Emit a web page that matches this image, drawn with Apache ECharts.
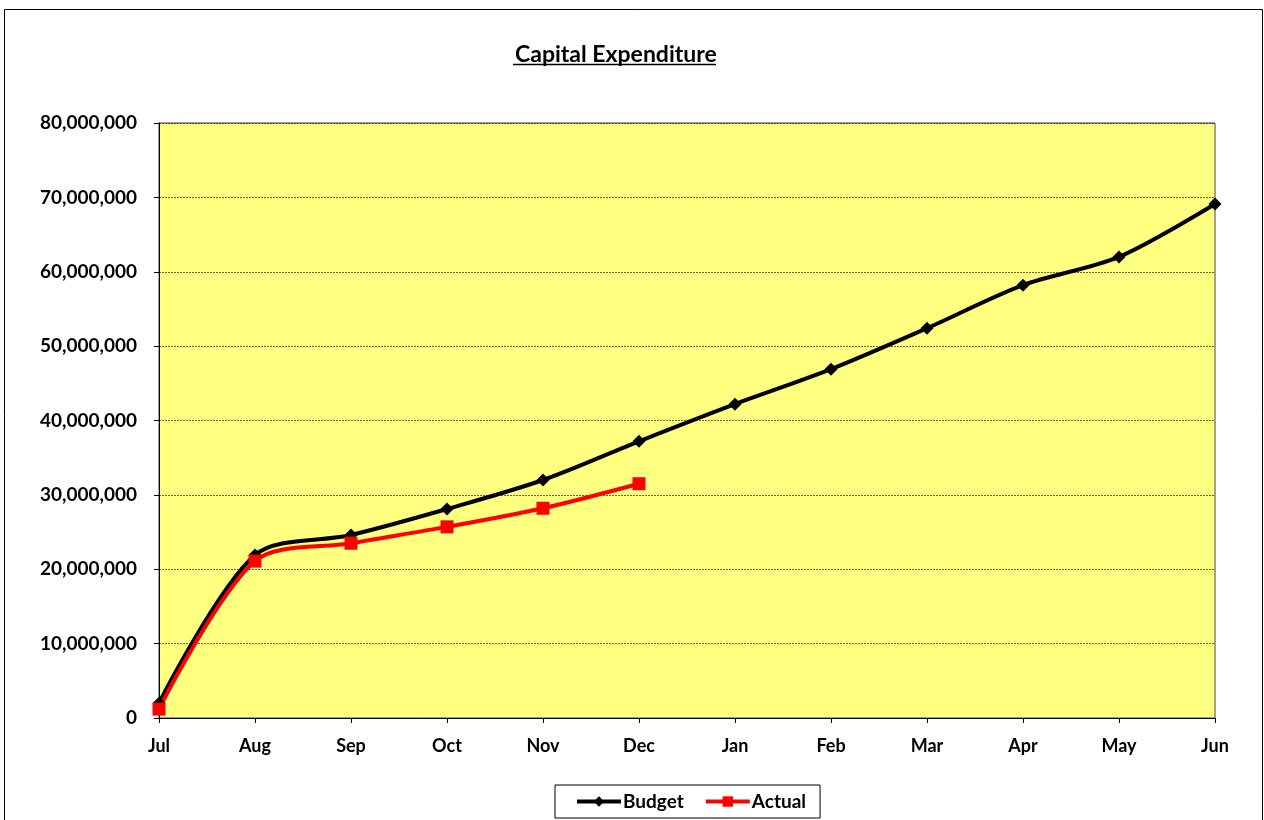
<!DOCTYPE html>
<html>
<head>
<meta charset="utf-8">
<script src="https://cdn.jsdelivr.net/npm/echarts@6/dist/echarts.min.js"></script>
<style>
  html, body { margin: 0; padding: 0; background: #fff; }
  #chart { width: 1264px; height: 820px; }
</style>
</head>
<body>
<div id="chart"></div>
<script>
// months of the financial year
var months = ['Jul', 'Aug', 'Sep', 'Oct', 'Nov', 'Dec', 'Jan', 'Feb', 'Mar', 'Apr', 'May', 'Jun'];
// cumulative budget
var budget = [2000000, 21900000, 24600000, 28100000, 32000000, 37200000, 42200000, 46900000, 52400000, 58200000, 62000000, 69100000];
// cumulative actual (to Dec)
var actual = [1200000, 21100000, 23500000, 25700000, 28200000, 31500000];

var font = 'Lato, "Open Sans", sans-serif';
var chart = echarts.init(document.getElementById('chart'));

chart.setOption({
  backgroundColor: '#fff',
  animation: false,
  title: {
    text: 'Capital Expenditure',
    left: 510,
    top: 38,
    textStyle: { fontFamily: font, fontSize: 23, fontWeight: 'bold', color: '#000' }
  },
  graphic: [
    // outer chart border
    { type: 'rect', shape: { x: 4.5, y: 9.5, width: 1258, height: 830 },
      style: { fill: 'none', stroke: '#000', lineWidth: 1 }, z: -1 },
    // title underline
    { type: 'line', shape: { x1: 513, y1: 64.5, x2: 716, y2: 64.5 },
      style: { stroke: '#000', lineWidth: 1.5 } }
  ],
  legend: {
    bottom: 2,
    left: 555,
    itemWidth: 44,
    itemHeight: 13,
    itemGap: 20,
    padding: [7, 14, 7, 20],
    borderColor: '#000',
    borderWidth: 1,
    lineStyle: { width: 4 },
    textStyle: { fontFamily: font, fontSize: 19, fontWeight: 'bold', color: '#000', padding: [0, 0, 0, -3] },
    data: ['Budget', 'Actual']
  },
  grid: {
    left: 159, right: 49, top: 123, bottom: 102,
    show: true,
    backgroundColor: '#FFFF80',
    borderColor: '#444',
    borderWidth: 1
  },
  xAxis: {
    type: 'category',
    data: months,
    boundaryGap: false,
    axisLine: { lineStyle: { color: '#000', width: 1 } },
    axisTick: { show: true, length: 5, lineStyle: { color: '#000' } },
    axisLabel: { fontFamily: font, fontSize: 18, fontWeight: 'bold', color: '#000', margin: 19 },
    splitLine: { show: false }
  },
  yAxis: {
    type: 'value',
    min: 0,
    max: 80000000,
    interval: 10000000,
    axisLine: { show: true, lineStyle: { color: '#000', width: 1 } },
    axisTick: { show: true, length: 5, lineStyle: { color: '#000' } },
    axisLabel: {
      fontFamily: font, fontSize: 19, fontWeight: 'bold', color: '#000', margin: 22,
      formatter: function (v) { return v.toLocaleString('en-US'); }
    },
    splitLine: { show: true, lineStyle: { color: '#000', type: [2, 1], width: 0.6 } }
  },
  series: [
    {
      name: 'Budget',
      type: 'line',
      data: budget,
      smooth: 0.3,
      symbol: 'diamond',
      symbolSize: 13,
      lineStyle: { color: '#000', width: 4 },
      itemStyle: { color: '#000' }
    },
    {
      name: 'Actual',
      type: 'line',
      data: actual,
      smooth: 0.3,
      symbol: 'rect',
      symbolSize: 13,
      lineStyle: { color: '#FF0000', width: 4 },
      itemStyle: { color: '#FF0000' },
      z: 3
    }
  ]
});
</script>
</body>
</html>
